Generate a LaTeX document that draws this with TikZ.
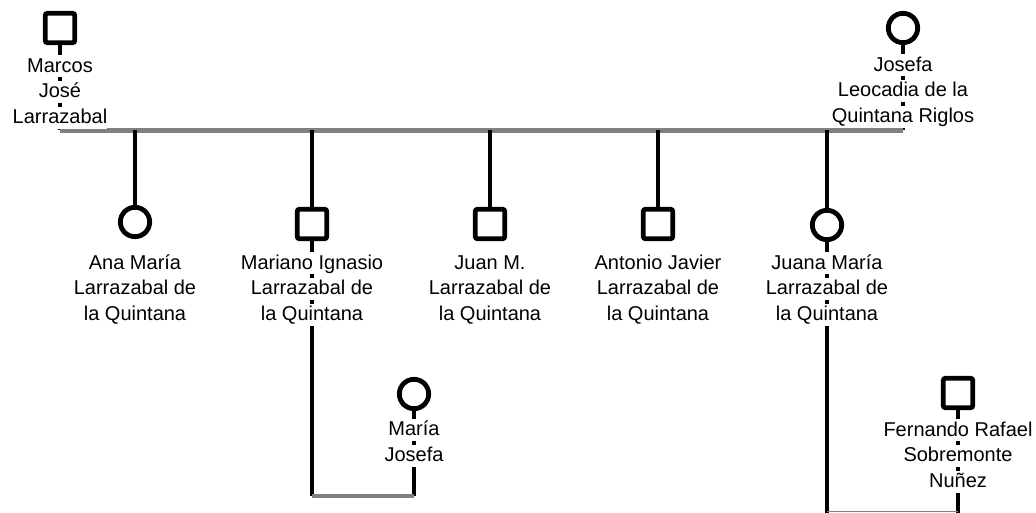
\documentclass[tikz,border=0pt]{standalone}
\usepackage{fontspec}
\setmainfont{Liberation Sans}
\definecolor{lineGray}{RGB}{128,128,128}
\newcommand{\plabel}[1]{{\setlength{\fboxsep}{0pt}\colorbox{white}{\rule[-4pt]{0pt}{16.5pt}#1}}}
\tikzset{every picture/.style={line width=0.75pt}}
\tikzset{
  male/.style={draw, line width=3.6pt, rounded corners=1.5pt, fill=white, minimum size=22pt, inner sep=0pt},
  female/.style={draw, circle, line width=3.6pt, fill=white, minimum size=22pt, inner sep=0pt},
  kin/.style={line width=3.6pt},
  couple/.style={line width=3.6pt, color=lineGray},
  thincouple/.style={line width=1.1pt, color=lineGray},
  who/.style={align=center, inner sep=0pt, font=\fontsize{15}{19.2}\selectfont}
}

\begin{document}
\begin{tikzpicture}[x=0.75pt,y=0.75pt,yscale=-1,xscale=1]
\useasboundingbox (0,0) rectangle (1036,513);

% symbols
\node [male] (marcos) at (60,28) {};
\node [female] (josefa) at (903,28) {};
\node [female] (ana) at (135,222) {};
\node [male] (mariano) at (312,224) {};
\node [male] (juan) at (490,224) {};
\node [male] (antonio) at (658,224) {};
\node [female] (juana) at (827,225) {};
\node [female] (mariaj) at (414,394) {};
\node [male] (fernando) at (958,393) {};

\coordinate (cplL) at (60,130.5);
\coordinate (cplR) at (903,130.5);
\coordinate (mjL) at (312,496);
\coordinate (mjR) at (414,496);
\coordinate (jfL) at (827,511.5);
\coordinate (jfR) at (958,511.5);

% parents
\draw [kin] (marcos.south) -- (cplL);
\draw [kin] (josefa.south) -- (cplR);
\draw [couple] (cplL) -- (cplR);

% children
\draw [kin] (ana |- cplL) -- (ana.north);
\draw [kin] (mariano |- cplL) -- (mariano.north);
\draw [kin] (juan |- cplL) -- (juan.north);
\draw [kin] (antonio |- cplL) -- (antonio.north);
\draw [kin] (juana |- cplL) -- (juana.north);

% marriages
\draw [kin] (mariano.south) -- (mjL);
\draw [kin] (mariaj.south) -- (mjR);
\draw [couple] (mjL) -- (mjR);
\draw [kin] (juana.south) -- (juana |- 0,513);
\draw [kin] (fernando.south) -- (fernando |- 0,513);
\draw [thincouple] (jfL) -- (jfR);

% names
\node [who] (tMarcos) at (60,92) {\plabel{Marcos}\\\plabel{José}\\\plabel{Larrazabal}};
\node [who] (tJosefa) at (903,91) {\plabel{Josefa}\\\plabel{Leocadia de la}\\\plabel{Quintana Riglos}};
\node [who] (tAna) at (135,289) {\plabel{Ana María}\\\plabel{Larrazabal de}\\\plabel{la Quintana}};
\node [who] (tMariano) at (312,289) {\plabel{Mariano Ignasio}\\\plabel{Larrazabal de}\\\plabel{la Quintana}};
\node [who] (tJuan) at (490,289) {\plabel{Juan M.}\\\plabel{Larrazabal de}\\\plabel{la Quintana}};
\node [who] (tAntonio) at (658,289) {\plabel{Antonio Javier}\\\plabel{Larrazabal de}\\\plabel{la Quintana}};
\node [who] (tJuana) at (827,289) {\plabel{Juana María}\\\plabel{Larrazabal de}\\\plabel{la Quintana}};
\node [who] (tMariaj) at (414,443) {\plabel{María}\\\plabel{Josefa}};
\node [who] (tFernando) at (958,456) {\plabel{Fernando Rafael}\\\plabel{Sobremonte}\\\plabel{Nuñez}};

\end{tikzpicture}
\end{document}
